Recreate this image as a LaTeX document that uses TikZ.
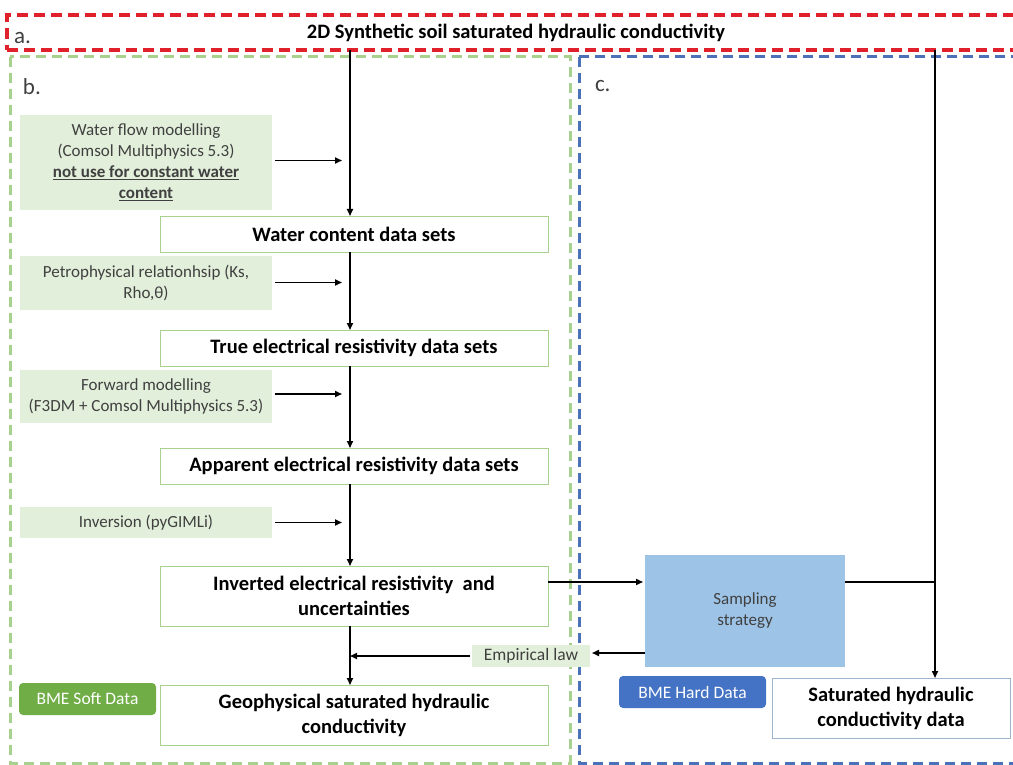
\documentclass[tikz,border=0pt]{standalone}
\usepackage{fontspec}
\setmainfont{Carlito}
\usetikzlibrary{arrows.meta,calc}
\definecolor{lgreen}{HTML}{E2EFDA}
\definecolor{bgreen}{HTML}{A9D18E}
\definecolor{dgreen}{HTML}{70AD47}
\definecolor{sblue}{HTML}{9DC3E6}
\definecolor{hblue}{HTML}{4472C4}
\definecolor{dred}{HTML}{E0202A}
\definecolor{dashgreen}{HTML}{A9D18E}
\definecolor{dblue}{HTML}{4A72B8}
\definecolor{shborder}{HTML}{9DB5CC}
\definecolor{txt}{HTML}{404040}
\begin{document}
\begin{tikzpicture}[x=1pt,y=-1pt,
 every node/.style={inner sep=0pt, outer sep=0pt},
 gbox/.style={fill=lgreen, anchor=north west, align=center, text=txt, font=\fontsize{17}{21}\selectfont},
 wbox/.style={draw=bgreen, line width=0.7pt, fill=white, anchor=north west, align=center, text=black, font=\bfseries\fontsize{20.5}{25}\selectfont},
 arr/.style={-{Triangle[length=7pt,width=6pt]}, line width=1.6pt, black},
 ln/.style={line width=1.6pt, black},
 lbl/.style={font=\fontsize{23}{23}\selectfont, anchor=west, text=txt},
 bme/.style={rounded corners=4pt, anchor=north west, text=white, font=\fontsize{17.5}{18}\selectfont}]
\useasboundingbox (0,0) rectangle (1013,765);
\begin{scope}
\clip (0,0) rectangle (1013,765);
% frames
\node[draw=dred, dash pattern=on 11pt off 6pt, line width=3.3pt, anchor=north west, minimum width=1030pt, minimum height=35pt] (boxa) at (7,15) {};
\draw[dashgreen, dash pattern=on 10pt off 6pt, line width=3pt] (10,57) rectangle (570,763);
\draw[dblue, dash pattern=on 10pt off 6pt, line width=3pt] (579,57) rectangle (1030,763);
\node[font=\bfseries\fontsize{20.5}{20.5}\selectfont, text=black] (title) at (516,33) {2D Synthetic soil saturated hydraulic conductivity};
\node[lbl] (la) at (14,38) {a.};
\node[lbl] (lb) at (23,87) {b.};
\node[lbl] (lc) at (595,86) {c.};
% spine coordinates
\coordinate (sp) at (350,0);
\coordinate (sp2) at (935,0);
% green boxes
\node[gbox, minimum width=252pt, minimum height=95pt] (wf) at (20,115) {Water flow modelling\\(Comsol Multiphysics 5.3)\\\textbf{\underline{not use for constant water}}\\\textbf{\underline{content}}};
\node[gbox, minimum width=252pt, minimum height=54pt] (pp) at (20,256) {Petrophysical relationhsip (Ks,\\Rho,θ)};
\node[gbox, minimum width=252pt, minimum height=53pt] (fm) at (20,370) {Forward modelling\\(F3DM + Comsol Multiphysics 5.3)};
\node[gbox, minimum width=252pt, minimum height=31pt] (inv) at (20,507) {Inversion (pyGIMLi)};
% white boxes
\node[wbox, minimum width=388pt, minimum height=36pt] (wc) at (160,216) {Water content data sets};
\node[wbox, minimum width=388pt, minimum height=36pt] (te) at (160,330) {True electrical resistivity data sets};
\node[wbox, minimum width=388pt, minimum height=36pt] (ae) at (160,448) {Apparent electrical resistivity data sets};
\node[wbox, minimum width=388pt, minimum height=60pt] (ie) at (160,566) {Inverted electrical resistivity\ \ and\\uncertainties};
\node[wbox, minimum width=388pt, minimum height=60pt] (gs) at (160,685) {Geophysical saturated hydraulic\\conductivity};
\node[wbox, draw=shborder, minimum width=238pt, minimum height=60pt] (sh) at (772,678) {Saturated hydraulic\\conductivity data};
% other
\node[gbox, minimum width=118pt, minimum height=22pt, font=\fontsize{17.5}{21}\selectfont] (el) at (472,645) {Empirical law};
\node[fill=sblue, anchor=north west, minimum width=200pt, minimum height=112pt, align=center, text=txt, font=\fontsize{17}{21}\selectfont] (ss) at (645,555) {Sampling\\strategy};
\node[bme, fill=dgreen, minimum width=137pt, minimum height=32pt] (soft) at (19,683) {BME Soft Data};
\node[bme, fill=hblue, minimum width=147pt, minimum height=32pt] (hard) at (619,676) {BME Hard Data};
% arrow end coordinates
\coordinate (e1) at (342,0);
% connectors
\draw[arr] (boxa.south -| sp) -- (wc.north -| sp);
\draw[arr] (wc.south -| sp) -- (te.north -| sp);
\draw[arr] (te.south -| sp) -- (ae.north -| sp);
\draw[arr] (ae.south -| sp) -- (ie.north -| sp);
\draw[arr] (ie.south -| sp) -- (gs.north -| sp);
\draw[arr, shorten <=3pt] ([yshift=2pt]wf.east) -- ([yshift=2pt]wf.east -| e1);
\draw[arr, shorten <=3pt] ([yshift=0.5pt]pp.east) -- ([yshift=0.5pt]pp.east -| e1);
\draw[arr, shorten <=3pt] ([yshift=2.5pt]fm.east) -- ([yshift=2.5pt]fm.east -| e1);
\draw[arr, shorten <=3pt] (inv.east) -- (inv.east -| e1);
\draw[arr, shorten <=2pt] (el.west) -- (el.west -| sp);
\draw[arr, shorten >=2pt] ([yshift=14pt]ie.east) -- ([yshift=14pt]ie.east -| ss.west);
\draw[arr, shorten >=2pt] ([yshift=3pt]ss.west |- el.east) -- ([yshift=3pt]el.east);
\draw[ln] ([yshift=29pt]ss.east) -- ([yshift=29pt]ss.east -| sp2);
\draw[arr] (boxa.south -| sp2) -- (sh.north -| sp2);
\end{scope}
\end{tikzpicture}
\end{document}
